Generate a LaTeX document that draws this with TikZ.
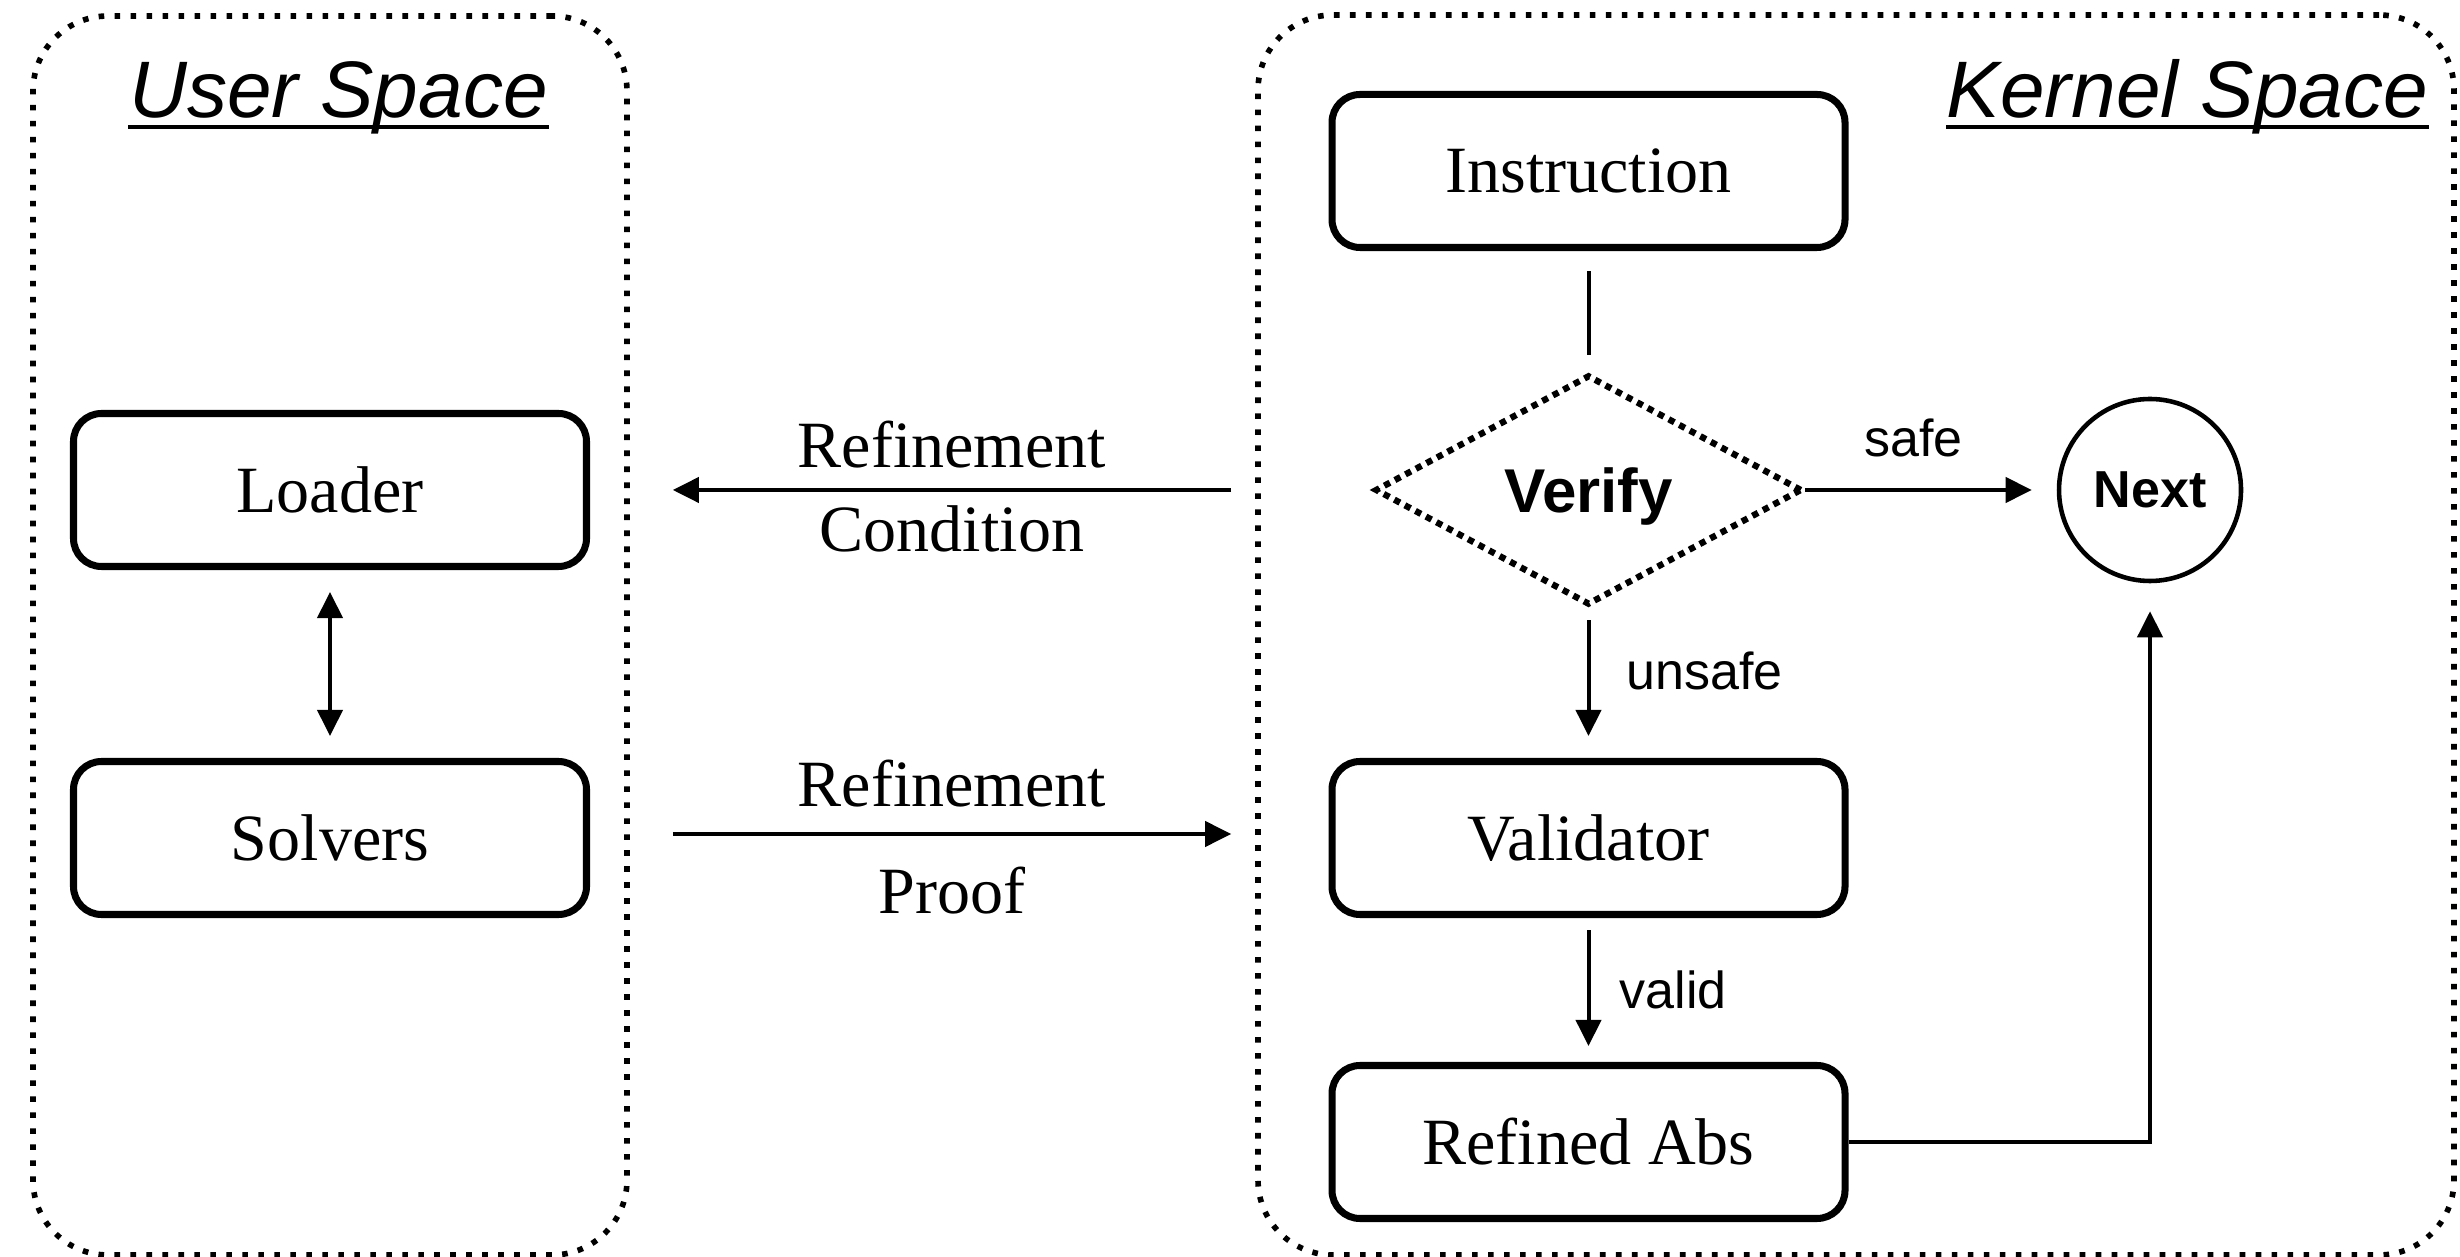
\documentclass[tikz,border=0pt]{standalone}
\usepackage{fontspec}
\setmainfont{Liberation Serif}
\setsansfont{Liberation Sans}
\usetikzlibrary{positioning,arrows.meta,shapes.geometric}

\begin{document}
\begin{tikzpicture}[>={Triangle[length=0.26cm,width=0.25cm]},
	space/.style={draw,line width=1.6pt,dash pattern=on 1.6pt off 2.95pt,rounded corners=0.75cm,inner sep=0},
	block/.style={draw,rounded corners=0.28cm,line width=2pt,minimum width=5.13cm,minimum height=1.53cm,font=\fontsize{18.8}{22}\selectfont},
	link/.style={line width=1.15pt},
	tag/.style={inner sep=0,font=\sffamily\fontsize{14.8}{17}\selectfont},
	msglabel/.style={inner sep=0,font=\fontsize{18.8}{22}\selectfont},
	title/.style={inner sep=0,anchor=base,font=\sffamily\itshape\fontsize{22.8}{27}\selectfont},]

	\useasboundingbox (0,0) rectangle (24.6,-12.57);

	% the two spaces
	\node [space,minimum width=5.94cm,minimum height=12.39cm] (user) at (3.30,-6.355) {};
	\node [space,minimum width=11.96cm,minimum height=12.40cm] (kernel) at (18.56,-6.35) {};
	\node [title] (ut) at (3.385,-1.18) {User Space};
	\node [title] (kt) at (21.875,-1.18) {Kernel Space};
	\draw[line width=1.1pt] ([yshift=-0.09cm]ut.base west)--([yshift=-0.09cm]ut.base east);
	\draw[line width=1.1pt] ([yshift=-0.09cm]kt.base west)--([yshift=-0.09cm]kt.base east);

	\node [block] (loader) at (3.30,-4.90) {Loader};
	\node [block] (solvers) at (3.30,-8.38) {Solvers};

	\node [block] (instr) at (15.885,-1.71) {Instruction};
	\node [draw,diamond,line width=1.8pt,dash pattern=on 1.8pt off 1.6pt,minimum width=4.27cm,minimum height=2.30cm,inner sep=0,text depth=0pt,font=\sffamily\bfseries\fontsize{17.6}{20}\selectfont] (verify) at (15.885,-4.90) {Verify};
	\node [circle,draw,line width=1.3pt,minimum size=1.82cm,inner sep=0,font=\sffamily\bfseries\fontsize{14.8}{17}\selectfont] (next) at (21.50,-4.90) {Next};
	\node [block] (valid) at (15.885,-8.38) {Validator};
	\node [block] (refined) at (15.885,-11.42) {Refined Abs};

	\draw[link,shorten <=0.2cm,shorten >=0.17cm] (instr) -- (verify);
	\draw[link,->,shorten >=0.25cm] (verify) -- (next) node[tag,pos=0.43,above=0.31cm] {safe};
	\draw[link,->,shorten <=0.12cm,shorten >=0.22cm] (verify) -- (valid) node[tag,pos=0.42,right=0.36cm] {unsafe};
	\draw[link,->,shorten <=0.12cm,shorten >=0.16cm] (valid) -- (refined) node[tag,midway,right=0.29cm] {valid};
	\draw[link,->,shorten >=0.28cm] (refined) -| (next);

	\draw[link,<->,shorten <=0.22cm,shorten >=0.22cm] (loader) -- (solvers);

	\draw[link,->,shorten <=0.24cm,shorten >=0.43cm] (kernel.west |- verify) -- (user.east |- loader)
		node[msglabel,pos=0.485,above=0.2cm] {Refinement} node[msglabel,pos=0.485,below=0.14cm] {Condition};
	\draw[link,->,shorten <=0.43cm,shorten >=0.24cm] ([yshift=0.04cm]user.east |- solvers) -- ([yshift=0.04cm]kernel.west |- valid)
		node[msglabel,pos=0.515,above=0.25cm] {Refinement} node[msglabel,pos=0.515,below=0.31cm] {Proof};
\end{tikzpicture}
\end{document}
